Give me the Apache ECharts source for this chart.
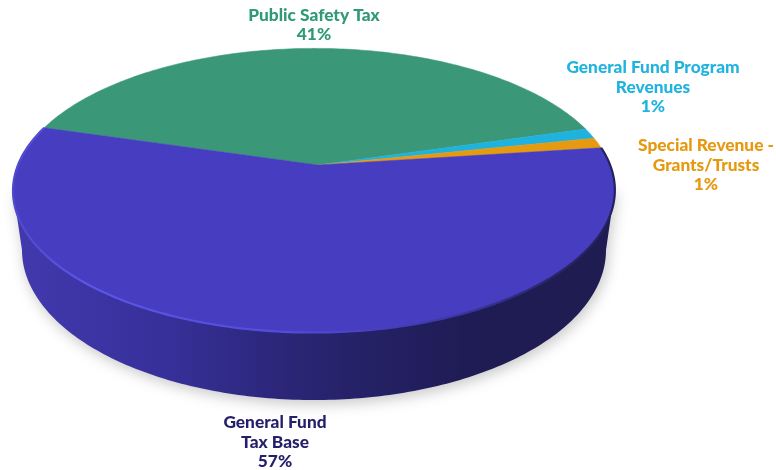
<!DOCTYPE html>
<html><head><meta charset="utf-8">
<style>html,body{margin:0;padding:0;background:#fff}#c{width:776px;height:470px}</style>
<script src="https://cdn.jsdelivr.net/npm/echarts@6/dist/echarts.min.js"></script>
</head><body><div id="c"></div>
<script>
const categories = ["Public Safety Tax", "General Fund Program\nRevenues", "Special Revenue -\nGrants/Trusts", "General Fund\nTax Base"];
const values = [41, 1.2, 1.2, 56.6];
const sliceColors = ["#3a9878", "#1fb2df", "#e59a10", "#473dc0"];
const textColors = ["#2f9a74", "#1fb3e0", "#e6980f", "#231f6b"];
const labelCentres = [[314, 25], [653, 87], [706, 165], [275, 442]];

const total = values.reduce((a, b) => a + b, 0);
const startDeg = 163.7;
const apex = [318, 165], Rx = 296, Ry = 137.5, k = 0.179, m = 0.0133;
const base = { cx: 314, cy: 250, a: 292, b: 150 };

function rim(deg) {
  const t = deg * Math.PI / 180, u = Math.cos(t), v = Math.sin(t), w = 1 + k * v + m * u;
  return [apex[0] + Rx * u / w, apex[1] - Ry * v / w];
}
function arc(from, to) {
  const n = Math.max(2, Math.ceil(Math.abs(to - from))), pts = [];
  for (let i = 0; i <= n; i++) pts.push(rim(from + (to - from) * i / n));
  return pts;
}
function sliceAngles(idx) {
  let before = 0;
  for (let i = 0; i < idx; i++) before += values[i];
  return [startDeg - before / total * 360, startDeg - (before + values[idx]) / total * 360];
}
const edge = { type: 'linear', global: true, x: 13, y: 0, x2: 615, y2: 0, colorStops: [
  { offset: 0, color: '#4f49cc' }, { offset: 0.12, color: '#5c56e6' }, { offset: 0.45, color: '#534cdc' },
  { offset: 0.72, color: '#3f38a8' }, { offset: 0.9, color: '#2a2668' }, { offset: 1, color: '#24225c' }] };
const wallFill = { type: 'linear', global: true, x: 14, y: 0, x2: 612, y2: 0, colorStops: [
  { offset: 0, color: '#4239ae' }, { offset: 0.25, color: '#37309a' }, { offset: 0.5, color: '#282470' },
  { offset: 0.75, color: '#1f1c55' }, { offset: 1, color: '#1e1c50' }] };

function renderWall() {
  const pts = [];
  for (let d = 0; d <= 180; d++) {
    const t = d * Math.PI / 180;
    pts.push([base.cx + base.a * Math.cos(t), base.cy + base.b * Math.sin(t)]);
  }
  let lo = 180, hi = 0, minX = 1e9, maxX = -1e9;
  for (let d = -60; d <= 240; d++) {
    const p = rim(d);
    if (p[0] < minX) { minX = p[0]; lo = d; }
    if (p[0] > maxX) { maxX = p[0]; hi = d; }
  }
  pts.push(rim(lo), rim(hi));
  return { type: 'polygon', shape: { points: pts }, style: {
    fill: wallFill, shadowColor: 'rgba(0,0,0,0.22)', shadowBlur: 14, shadowOffsetY: 4, shadowOffsetX: 2 } };
}
function renderSlice(params, api) {
  const i = params.dataIndex, ang = sliceAngles(i);
  const arcPts = arc(ang[0], ang[1]);
  const kids = [{ type: 'polygon', shape: { points: [apex].concat(arcPts) },
    style: { fill: sliceColors[i], stroke: sliceColors[i], lineWidth: 0.5 } }];
  if (i === values.length - 1) {
    kids.push({ type: 'polyline', shape: { points: arcPts },
      style: { fill: null, stroke: edge, lineWidth: 2.2 } });
  }
  const pct = Math.round(api.value(0) / total * 100);
  kids.push({ type: 'text', x: labelCentres[i][0], y: labelCentres[i][1], style: {
    text: categories[i] + "\n" + pct + "%", fill: textColors[i], align: 'center', verticalAlign: 'middle',
    fontFamily: 'Lato', fontWeight: 900, fontSize: 17.3, lineHeight: 19.5 }, z2: 10 });
  return { type: 'group', children: kids };
}
const chart = echarts.init(document.getElementById('c'), null, { renderer: 'canvas' });
chart.setOption({
  animation: false, backgroundColor: '#fff',
  series: [
    { type: 'custom', coordinateSystem: 'none', silent: true, z: 1, data: [[1]], renderItem: renderWall },
    { type: 'custom', coordinateSystem: 'none', silent: true, z: 2, data: values.map(v => [v]), renderItem: renderSlice }
  ]
});
</script></body></html>
